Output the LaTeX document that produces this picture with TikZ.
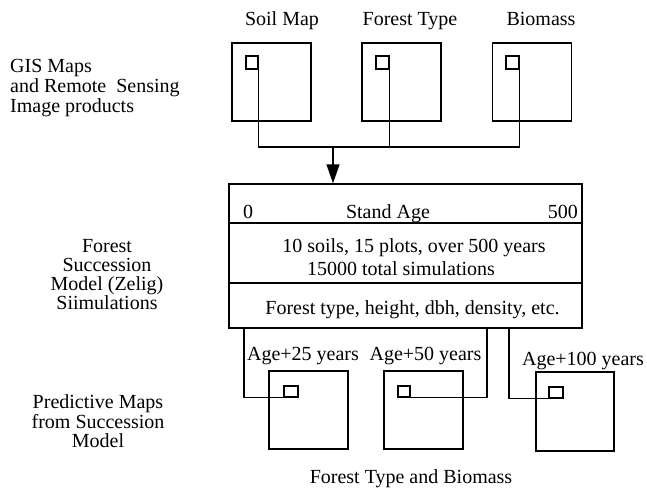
\documentclass[tikz,border=0pt]{standalone}
\usepackage{fontspec}
\setmainfont{Liberation Serif}
\usetikzlibrary{arrows.meta}
\begin{document}
\begin{tikzpicture}[x=1pt,y=-1pt,
  every node/.style={font=\fontsize{20}{20}\selectfont},
  wire/.style={line width=1.4pt},
  mapbox/.style={draw,line width=1.4pt,inner sep=0pt,minimum width=79pt,minimum height=78pt},
  pixbox/.style={draw,line width=1.4pt,inner sep=0pt,minimum width=12pt,minimum height=12pt},
  rowbox/.style={draw,line width=1.4pt,inner sep=0pt,minimum width=353pt},
  label/.style={anchor=base,inner sep=0pt},
  leftlabel/.style={anchor=base west,inner sep=0pt}]
\useasboundingbox (0,0) rectangle (647,490);

% input maps
\node[label] (tSoil) at (282,25) {Soil Map};
\node[label] (tType) at (410,25) {Forest Type};
\node[label] (tBio)  at (541,25) {Biomass};
\node[mapbox] (m1) at (271.5,82) {};
\node[mapbox] (m2) at (401.5,82) {};
\node[mapbox] (m3) at (532,82) {};
\node[pixbox,minimum height=13pt] (s1) at (252,62.5) {};
\node[pixbox,minimum width=13pt,minimum height=13pt] (s2) at (382.5,62.5) {};
\node[pixbox,minimum width=13pt,minimum height=13pt] (s3) at (512.5,62.5) {};

% left-hand captions
\node[leftlabel] (g1) at (10,72) {GIS Maps};
\node[leftlabel] (g2) at (10,92) {and Remote\ \ Sensing};
\node[leftlabel] (g3) at (10,112) {Image products};
\node[label] (f1) at (107,252) {Forest};
\node[label] (f2) at (107,271) {Succession};
\node[label] (f3) at (107,290) {Model (Zelig)};
\node[label] (f4) at (107,309) {Siimulations};
\node[label] (d1) at (98,408) {Predictive Maps};
\node[label] (d2) at (98,428) {from Succession};
\node[label] (d3) at (98,447) {Model};

% simulation table
\node[rowbox,minimum height=39pt] (r1) at (405.5,203.5) {};
\node[rowbox,minimum height=60pt] (r2) at (405.5,253) {};
\node[rowbox,minimum height=45pt] (r3) at (405.5,305.5) {};
\node[anchor=base west,inner sep=0pt] (a0) at (243,218) {0};
\node[label] (aS) at (388,218) {Stand Age};
\node[anchor=base east,inner sep=0pt] (a5) at (578,218) {500};
\node[label] (l1) at (414,252) {10 soils, 15 plots, over 500 years};
\node[label] (l2) at (401,275) {15000 total simulations};
\node[label] (l3) at (412.5,314) {Forest type, height, dbh, density, etc.};

% inputs feeding the model
\coordinate (j) at (333,147);
\draw[wire] (s1.south east) |- (s3.south east |- j) -- (s3.south east);
\draw[wire] (s2.south east) -- (s2.south east |- j);
\draw[wire,-{Triangle[length=19pt,width=13pt]}] (j) -- (r1.north -| j);

% predicted maps
\node[label] (y1) at (303,360) {Age+25 years};
\node[label] (y2) at (425.5,360) {Age+50 years};
\node[label] (y3) at (583,365) {Age+100 years};
\node[mapbox] (p1) at (308.5,410) {};
\node[mapbox] (p2) at (423.5,410) {};
\node[mapbox,minimum width=78pt,minimum height=79pt] (p3) at (575,411.5) {};
\node[pixbox,minimum width=14pt,minimum height=11pt] (q1) at (291,391.5) {};
\node[pixbox,minimum width=12pt,minimum height=11pt] (q2) at (404,391.5) {};
\node[pixbox,minimum width=14pt,minimum height=11pt] (q3) at (556,392.5) {};
\coordinate (o1) at (244,328);
\coordinate (o2) at (487,328);
\coordinate (o3) at (509,328);
\draw[wire] (o1) |- (q1.south west);
\draw[wire] (q2.south east) -| (o2);
\draw[wire] (o3) |- (q3.south west);
\node[label] (cap) at (411,483) {Forest Type and Biomass};
\end{tikzpicture}
\end{document}
